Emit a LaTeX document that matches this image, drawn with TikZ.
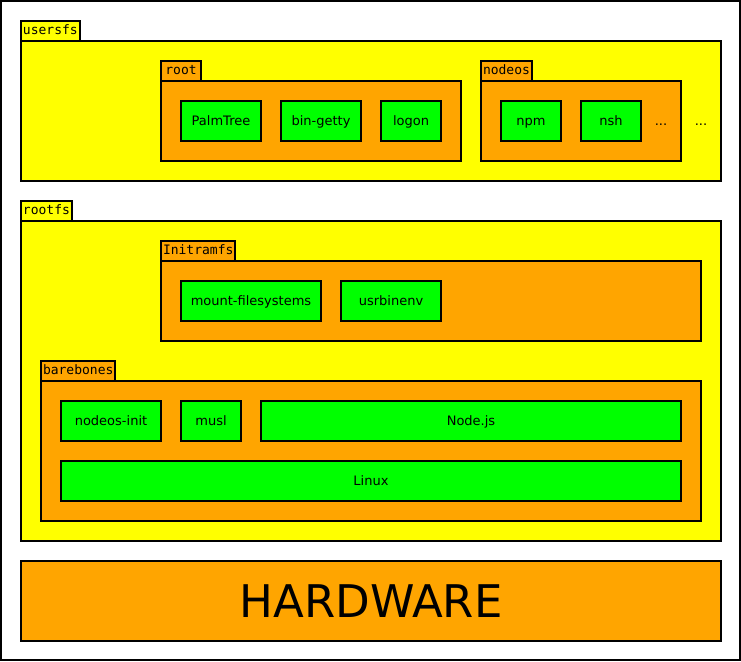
\documentclass[tikz,border=0pt]{standalone}
\usepackage{fontspec}
\setmainfont{DejaVu Sans}
\setmonofont{DejaVu Sans Mono}
\usetikzlibrary{positioning}
\definecolor{fsyellow}{RGB}{255,255,0}
\definecolor{fsorange}{RGB}{255,165,0}
\definecolor{fsgreen}{RGB}{0,255,0}

\begin{document}
\begin{tikzpicture}[x=1pt,y=-1pt,
  every node/.style={outer sep=0pt,line width=2pt,font=\fontsize{13}{15}\selectfont},
  layer/.style={draw,fill=fsyellow,anchor=north west},
  group/.style={draw,fill=fsorange,anchor=north west},
  tab/.style={draw,anchor=south west,inner xsep=2pt,inner ysep=0pt,minimum height=20pt,minimum width=40pt,
    text height=10pt,text depth=2.5pt,font=\ttfamily\fontsize{13}{15}\selectfont},
  prog/.style={draw,fill=fsgreen,minimum height=40pt,anchor=north west,text height=10.5pt,text depth=2.5pt},
  dots/.style={inner sep=0pt,text height=11pt,text depth=2.5pt}]
\useasboundingbox (0,0) rectangle (741,661);
\draw[line width=2pt] (1,1) rectangle (740,660);

% user space
\node[layer,minimum width=700pt,minimum height=140pt] (usersfs) at (21,41) {};
\node[tab,fill=fsyellow] (usersfstab) at (usersfs.north west) {usersfs};

\node[group,minimum width=300pt,minimum height=80pt] (root) at (161,81) {};
\node[tab,fill=fsorange] (roottab) at (root.north west) {root};
\node[prog,minimum width=80pt] (palmtree) at (181,101) {PalmTree};
\node[prog,minimum width=80pt,right=20pt of palmtree] (bingetty) {bin-getty};
\node[prog,minimum width=60pt,right=20pt of bingetty] (logon) {logon};

\node[group,minimum width=200pt,minimum height=80pt] (nodeos) at (481,81) {};
\node[tab,fill=fsorange] (nodeostab) at (nodeos.north west) {nodeos};
\node[prog,minimum width=60pt] (npm) at (501,101) {npm};
\node[prog,minimum width=60pt,right=20pt of npm] (nsh) {nsh};
\node[dots] (moreusr) at (661,121) {...};
\node[dots] (moreusers) at (701,121) {...};

% root filesystem
\node[layer,minimum width=700pt,minimum height=320pt] (rootfs) at (21,221) {};
\node[tab,fill=fsyellow] (rootfstab) at (rootfs.north west) {rootfs};

\node[group,minimum width=540pt,minimum height=80pt] (initramfs) at (161,261) {};
\node[tab,fill=fsorange] (initramfstab) at (initramfs.north west) {Initramfs};
\node[prog,minimum width=140pt] (mountfs) at (181,281) {mount-filesystems};
\node[prog,minimum width=100pt,right=20pt of mountfs] (usrbinenv) {usrbinenv};

\node[group,minimum width=660pt,minimum height=140pt] (barebones) at (41,381) {};
\node[tab,fill=fsorange] (barebonestab) at (barebones.north west) {barebones};
\node[prog,minimum width=100pt] (nodeosinit) at (61,401) {nodeos-init};
\node[prog,minimum width=60pt,right=20pt of nodeosinit] (musl) {musl};
\node[prog,minimum width=420pt,right=20pt of musl] (nodejs) {Node.js};
\node[prog,minimum width=620pt] (linux) at (61,461) {Linux};

% hardware
\node[group,minimum width=700pt,minimum height=80pt,font=\fontsize{45}{50}\selectfont] (hardware) at (21,561) {HARDWARE};
\end{tikzpicture}
\end{document}
